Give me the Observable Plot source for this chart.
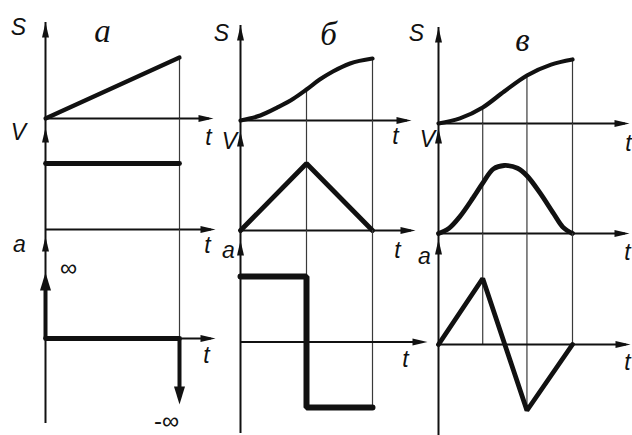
<!DOCTYPE html>
<html>
<head>
<meta charset="utf-8">
<script src="https://cdn.jsdelivr.net/npm/d3@7"></script>
<script src="https://cdn.jsdelivr.net/npm/@observablehq/plot@0.6"></script>
<style>
  html, body { margin: 0; background: #fff; }
  #chart { position: relative; width: 632px; height: 435px; overflow: hidden; background: #fff; }
</style>
</head>
<body>
<div id="chart"></div>
<script>
// Motion laws: displacement S, velocity V and acceleration a against time t
// for three cases: а — uniform, б — constant acceleration steps, в — linear acceleration.
const caseNames = ["а", "б", "в"];
const rowNames = ["S", "V", "a"];
const timeName = "t";

// case а
const aS_t = [0, 1];
const aS_v = [0, 1];
const aV_t = [0, 1];
const aV_v = [1, 1];
const aA_t = [0, 1];
const aA_v = [0, 0];
const aImpulse_t = [0, 1];
const aImpulse_v = [1, -1];
const aImpulse_text = ["∞", "-∞"];

// case б
const bS_t = [0, 0.15, 0.28, 0.4, 0.5, 0.6, 0.7, 0.83, 1];
const bS_v = [0, 0.08, 0.21, 0.35, 0.5, 0.66, 0.79, 0.92, 1];
const bV_t = [0, 0.5, 1];
const bV_v = [0, 1, 0];
const bA_t = [0, 0.5, 0.5, 1];
const bA_v = [1, 1, -1, -1];

// case в
const cS_t = [0, 0.16, 0.33, 0.49, 0.66, 0.84, 1];
const cS_v = [0, 0.08, 0.25, 0.5, 0.75, 0.92, 1];
const cV_t = [0, 0.08, 0.16, 0.26, 0.33, 0.41, 0.49, 0.59, 0.66, 0.76, 0.86, 0.93, 1];
const cV_v = [0, 0.08, 0.25, 0.53, 0.74, 0.95, 1, 0.96, 0.85, 0.59, 0.29, 0.09, 0];
const cA_t = [0, 0.33, 0.66, 1];
const cA_v = [0, 1, -1, 0];

// vertical guide lines: time and where they stop in the a-row
const aGuide_t = [1], aGuide_end = [0];
const bGuide_t = [0.5, 1], bGuide_end = [-1, -1];
const cGuide_t = [0.33, 0.66, 1], cGuide_end = [0, -1, 0];

const zip = (t, v) => t.map((d, i) => ({t: d, v: v[i]}));

const cases = [
  {S: zip(aS_t, aS_v), V: zip(aV_t, aV_v), a: zip(aA_t, aA_v),
   guides: aGuide_t.map((t, i) => ({t, end: aGuide_end[i]})),
   impulses: aImpulse_t.map((t, i) => ({t, v: aImpulse_v[i], text: aImpulse_text[i]}))},
  {S: zip(bS_t, bS_v), V: zip(bV_t, bV_v), a: zip(bA_t, bA_v),
   guides: bGuide_t.map((t, i) => ({t, end: bGuide_end[i]}))},
  {S: zip(cS_t, cS_v), V: zip(cV_t, cV_v), a: zip(cA_t, cA_v),
   guides: cGuide_t.map((t, i) => ({t, end: cGuide_end[i]}))}
];

// page layout of the nine panels (pixels)
const W = 632, H = 435;
const layout = [
  {x: [45, 179], bottom: 423, title: [102, 31],
   rows: {
     S: {domain: [0, 1], range: [118, 57], tip: 22, end: 213, label: [18, 27], tLabel: [208, 137]},
     V: {domain: [0, 1], range: [229, 163], tip: 127, end: 215, label: [18, 132], tLabel: [207, 245]},
     a: {domain: [0, 1], range: [338, 272], tip: 236, end: 215, label: [19, 244], tLabel: [206, 355]}
   },
   impulseLabels: [[68, 268], [166, 421]]},
  {x: [240, 372], bottom: 433, title: [328, 34],
   rows: {
     S: {domain: [0, 1], range: [120, 58], tip: 25, end: 411, label: [221, 33], tLabel: [395, 136]},
     V: {domain: [0, 1], range: [230, 163], tip: 131, end: 415, label: [229, 141], tLabel: [397, 250]},
     a: {domain: [-1, 1], range: [407, 276], tip: 240, end: 427, label: [228, 250], tLabel: [405, 359]}
   }},
  {x: [438, 572], bottom: 435, title: [522, 40],
   rows: {
     S: {domain: [0, 1], range: [123, 59], tip: 27, end: 629, label: [416, 33], tLabel: [628, 143]},
     V: {domain: [0, 1], range: [233, 165], tip: 128, end: 629, label: [427, 139], tLabel: [627, 252]},
     a: {domain: [-1, 1], range: [410, 278], tip: 239, end: 630, label: [424, 256], tLabel: [627, 362]}
   }}
];

const ink = "#111";
const guideInk = "#3a3a3a";
const font = "Liberation Sans, Arial, sans-serif";
const titleFont = "Liberation Serif, Times New Roman, serif";

// slender filled arrowhead, tip at the anchor point, pointing up before rotation
const head = (w, l) => ({
  draw(ctx) { ctx.moveTo(0, 0); ctx.lineTo(w / 2, l); ctx.lineTo(-w / 2, l); ctx.closePath(); }
});
const axisHead = head(7, 15);
const bigHead = head(11, 18);

const chart = document.getElementById("chart");

cases.forEach((cs, c) => {
  const L = layout[c];
  const X = d3.scaleLinear([0, 1], L.x);
  rowNames.forEach((k, i) => {
    const R = L.rows[k];
    const Y = d3.scaleLinear(R.domain, R.range);
    const baseline = Y(0);
    const bandTop = i === 0 ? R.tip : d3.scaleLinear(L.rows[rowNames[i - 1]].domain, L.rows[rowNames[i - 1]].range)(0);
    const bandBottom = i === 2 ? L.bottom : baseline;
    const sAt = t => cs.S.find(d => d.t === t).v;

    const marks = [];
    // guide lines through this row
    marks.push(Plot.ruleX(cs.guides, {
      x: "t",
      y1: d => i === 0 ? sAt(d.t) : Y.invert(bandTop),
      y2: d => i === 2 ? d.end : 0,
      stroke: guideInk, strokeWidth: 1.2
    }));
    // vertical axis segment and its arrowhead
    marks.push(Plot.ruleX([{t: 0, y1: Y.invert(bandTop), y2: Y.invert(bandBottom)}],
      {x: "t", y1: "y1", y2: "y2", stroke: ink, strokeWidth: 2}));
    marks.push(Plot.dot([{t: 0, v: Y.invert(R.tip)}],
      {x: "t", y: "v", symbol: axisHead, fill: ink, stroke: null}));
    // time axis with arrowhead
    const tEnd = X.invert(R.end);
    marks.push(Plot.ruleY([{v: 0, x1: 0, x2: tEnd - 0.03}],
      {y: "v", x1: "x1", x2: "x2", stroke: ink, strokeWidth: 2}));
    marks.push(Plot.dot([{t: tEnd, v: 0}],
      {x: "t", y: "v", symbol: axisHead, rotate: 90, fill: ink, stroke: null}));

    // the motion curve
    const curve = (c === 0 || (c === 1 && k !== "S") || (c === 2 && k === "a")) ? "linear"
      : (k === "S" ? "monotone-x" : "catmull-rom");
    const width = c === 1 && k === "a" ? 6 : (k === "S" ? 4.2 : 4.8);
    marks.push(Plot.line(cs[k], {x: "t", y: "v", curve, stroke: ink, strokeWidth: width, strokeLinejoin: "miter"}));

    // infinite acceleration impulses of case а
    if (c === 0 && k === "a") {
      marks.push(Plot.ruleX(cs.impulses, {x: "t", y1: 0, y2: d => d.v * 0.8, stroke: ink, strokeWidth: 4}));
      marks.push(Plot.dot(cs.impulses, {x: "t", y: "v", symbol: bigHead,
        rotate: d => d.v > 0 ? 0 : 180, fill: ink, stroke: null}));
      marks.push(Plot.text(cs.impulses, {
        x: (d, j) => X.invert(L.impulseLabels[j][0]),
        y: (d, j) => Y.invert(L.impulseLabels[j][1]),
        text: "text", fontSize: 24, fontFamily: font, fill: ink
      }));
    }

    // row letter and time letter
    const labels = [
      {x: R.label[0], y: R.label[1], text: rowNames[i]},
      {x: R.tLabel[0], y: R.tLabel[1], text: timeName}
    ];
    marks.push(Plot.text(labels, {
      x: d => X.invert(d.x), y: d => Y.invert(d.y), text: "text",
      fontSize: 23, fontStyle: "italic", fontFamily: font, fill: ink
    }));
    if (i === 0) {
      marks.push(Plot.text([{x: L.title[0], y: L.title[1], text: caseNames[c]}], {
        x: d => X.invert(d.x), y: d => Y.invert(d.y), text: "text",
        fontSize: 33, fontStyle: "italic", fontFamily: titleFont, fill: ink
      }));
    }

    const svg = Plot.plot({
      width: W, height: H, margin: 0,
      x: {domain: [0, 1], range: L.x, axis: null},
      y: {domain: R.domain, range: R.range, axis: null},
      marks
    });
    svg.style.cssText = "position:absolute;left:0;top:0;background:transparent;overflow:visible;max-width:none;";
    chart.appendChild(svg);
  });
});
</script>
</body>
</html>
